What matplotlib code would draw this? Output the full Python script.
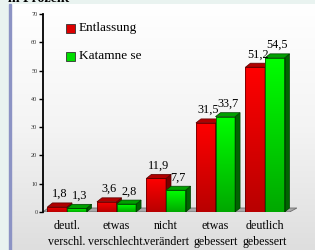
import numpy as np
import matplotlib
matplotlib.use("Agg")
import matplotlib.pyplot as plt
from matplotlib.patches import Polygon, Rectangle
from matplotlib.colors import LinearSegmentedColormap

categories = ["deutl.\nverschl.", "etwas\nverschlecht.", "nicht\nverändert", "etwas\ngebessert", "deutlich\ngebessert"]
entlassung = [1.8, 3.6, 11.9, 31.5, 51.2]
katamnese = [1.3, 2.8, 7.7, 33.7, 54.5]
series_names = ["Entlassung", "Katamne se"]
yticks = [0, 10, 20, 30, 40, 50, 60, 70]

W, H = 315, 250
fig = plt.figure(figsize=(W / 100, H / 100), dpi=100)
fig.patch.set_facecolor("#e9f3f0")

# background panel with gradient
bg = fig.add_axes([0, 0, 1, 1], zorder=0)
bg.set_xlim(0, W)
bg.set_ylim(H, 0)
bg.axis("off")
grad = np.linspace(0, 1, 256).reshape(-1, 1)
panel_cmap = LinearSegmentedColormap.from_list("p", ["#ffffff", "#f4f4f4", "#dedede"])
bg.imshow(grad, cmap=panel_cmap, extent=[10, W, H, 4], aspect="auto", zorder=0)
bg.add_patch(Rectangle((9, 4), 2, H - 4, color="#8c93c4", zorder=1))
fig.text(8 / W, 1 - 2 / H, "in Prozent", fontsize=10, fontweight="bold",
         family="Liberation Serif", va="baseline", ha="left")

serif = "Liberation Serif"
ax = fig.add_axes([43 / W, 1 - 212 / H, 254 / W, 198 / H], zorder=2)
ax.patch.set_alpha(0)
spacing = 49.5
ax.set_xlim(-24 / spacing, -24 / spacing + 254 / spacing)
ax.set_ylim(0, 70)
for s in ["top", "right", "bottom"]:
    ax.spines[s].set_visible(False)
ax.spines["left"].set_linewidth(1.3)
ax.set_yticks(yticks)
ax.set_yticklabels([str(t) for t in yticks], fontsize=4.5, family=serif, color="#333333")
ax.tick_params(axis="y", length=3, width=1, pad=1)
ax.set_xticks([])

bw = 0.395
dx = 5 / spacing
dy = 4 * 70 / 198

# floor
x_left, x_right = ax.get_xlim()
floor = Polygon([(x_left, 0), (x_right - dx - 0.05, 0), (x_right, dy), (x_left + dx, dy)],
                closed=True, facecolor="#a9a9a9", edgecolor="#6e6e6e", lw=0.6, zorder=1)
ax.add_patch(floor)
ax.plot([x_left, x_right - dx - 0.05], [0, 0], color="#555555", lw=0.8, zorder=1.5)

red_cmap = LinearSegmentedColormap.from_list("r", ["#b80000", "#ff0000"])
green_cmap = LinearSegmentedColormap.from_list("g", ["#00a800", "#00ff00"])
styles = [
    dict(cmap=red_cmap, top="#b00000", side="#7a0000", edge="#5a0000"),
    dict(cmap=green_cmap, top="#00a000", side="#006400", edge="#004000"),
]
vgrad = np.linspace(0, 1, 128).reshape(-1, 1)

x = np.arange(len(categories))
for si, vals in enumerate([entlassung, katamnese]):
    st = styles[si]
    for i, v in enumerate(vals):
        x0 = x[i] - bw + si * bw
        x1 = x0 + bw
        bar = ax.bar(x0, v, width=bw, align="edge", facecolor="none",
                     edgecolor=st["edge"], lw=0.5, zorder=4 + si)[0]
        im = ax.imshow(vgrad, cmap=st["cmap"], extent=[x0, x1, 0, v],
                       aspect="auto", origin="lower", zorder=3 + si)
        im.set_clip_path(bar)
        ax.add_patch(Polygon([(x1, 0), (x1, v), (x1 + dx, v + dy), (x1 + dx, dy)],
                             closed=True, facecolor=st["side"], edgecolor=st["edge"],
                             lw=0.5, zorder=3 + si))
        ax.add_patch(Polygon([(x0, v), (x1, v), (x1 + dx, v + dy), (x0 + dx, v + dy)],
                             closed=True, facecolor=st["top"], edgecolor=st["edge"],
                             lw=0.5, zorder=3 + si))
        ax.text(x0 + bw / 2 + dx / 2, v + dy + 1.0, str(v).replace(".", ","),
                ha="center", va="bottom", fontsize=8.8, family=serif, zorder=6)

for i, c in enumerate(categories):
    ax.text(x[i], -3.0, c, ha="center", va="top", fontsize=8.6, family=serif,
            linespacing=1.35)

# legend
for si, name in enumerate(series_names):
    ly = 64.9 - si * 9.9
    ax.add_patch(Rectangle((-0.02, ly - 1.6), 0.18, 3.2,
                           facecolor=["#dd0000", "#00dd00"][si], edgecolor="#333333",
                           lw=0.6, zorder=6))
    ax.text(0.24, ly + 0.2, name, ha="left", va="center", fontsize=9.5,
            family=serif, zorder=6)

fig.savefig("out.png", dpi=100, facecolor=fig.get_facecolor())
